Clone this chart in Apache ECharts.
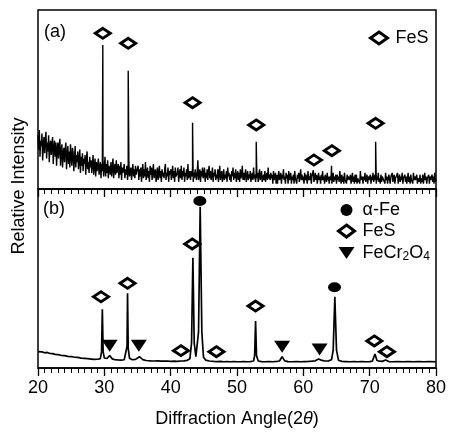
<!DOCTYPE html>
<html><head><meta charset="utf-8">
<script src="https://cdn.jsdelivr.net/npm/echarts@6/dist/echarts.min.js"></script>
<style>html,body{margin:0;padding:0;background:#fff}#c{width:450px;height:434px}</style>
</head><body><div id="c"></div>
<script>
// ---------- DATA ----------
const angleMin = 20, angleMax = 80, angleStep = 10;
// Panel (a): measured background, sampled every 0.1 deg starting at 20 deg (one row per degree)
const bgStartA = 20, bgStepA = 0.1;
const backgroundA = [
 30,22,33,18,27,24,31,16,25,29,
 20,28,32,17,26,21,30,15,24,27,
 19,25,29,14,23,27,18,26,13,22,
 26,17,24,28,13,21,25,12,20,23,
 15,22,26,11,19,24,14,21,12,25,
 18,13,23,20,10,17,24,12,19,15,
 21,11,16,22,9,18,13,20,10,17,
 14,19,8,16,21,11,15,9,18,12,
 16,9,14,19,8,13,17,7,15,10,
 13,17,8,12,15,6,14,10,16,7,
 12,18,7,14,9,16,6,13,11,8,
 15,7,12,17,6,11,14,8,16,9,
 10,14,6,13,8,15,5,12,9,11,
 14,6,11,8,13,5,10,15,7,9,
 12,5,10,14,7,11,6,13,8,10,
 9,13,5,11,7,12,4,10,14,6,
 11,7,15,5,9,12,6,10,4,13,
 8,12,5,10,14,6,9,11,4,8,
 12,5,9,13,6,10,4,11,7,9,
 6,11,14,5,9,7,12,4,10,8,
 11,5,9,13,6,10,4,12,7,8,
 9,12,4,8,11,6,13,5,10,7,
 12,4,9,7,11,5,14,6,8,10,
 5,10,7,12,4,9,6,11,8,5,
 9,16,5,8,11,4,10,7,12,6,
 8,12,4,9,6,11,5,10,13,6,
 10,5,8,12,4,9,7,11,5,8,
 6,11,4,9,13,5,8,10,4,7,
 11,5,8,6,10,4,12,7,9,5,
 8,4,10,7,12,5,9,6,11,4,
 7,10,5,9,4,11,6,8,13,5,
 9,5,8,11,4,7,10,5,8,6,
 10,4,7,9,5,12,6,8,4,9,
 6,9,4,8,11,5,7,10,4,6,
 8,5,10,4,7,9,5,12,6,8,
 5,9,6,8,3,10,5,7,9,3,
 8,3,7,10,5,6,9,3,8,6,
 11,5,7,3,9,6,8,3,10,5,
 6,9,3,7,5,8,3,10,6,7,
 3,8,6,9,4,7,11,5,8,5,
 7,3,9,5,8,6,3,10,5,7,
 5,9,3,7,6,8,4,6,9,5,
 8,3,6,9,5,7,3,8,5,10,
 5,7,3,8,6,4,9,5,7,3,
 7,5,8,3,6,9,4,7,5,8,
 3,8,5,7,4,10,6,3,8,4,
 7,3,9,5,6,3,8,5,7,6,
 5,8,3,6,9,4,7,3,8,4,
 8,3,6,5,7,3,10,5,6,7,
 3,7,5,9,4,6,8,3,7,5,
 6,8,3,7,5,9,4,6,8,5,
 3,7,5,9,4,6,3,8,4,7,
 8,5,6,3,9,5,7,3,6,8,
 5,3,7,6,9,4,5,8,3,6,
 7,5,9,3,6,8,4,7,5,9,
 3,6,5,8,4,7,3,6,9,4,
 7,3,8,5,6,3,9,5,7,5,
 5,8,3,6,7,4,8,3,6,4,
 8,3,6,9,5,7,3,6,5,8,
 3,7,5,6,8,4,7,3,9,4,
 6
];
// Panel (a): diffraction peak apexes [angle, intensity]
const peaksA = [[29.77,80.4],[33.6,66.1],[43.3,37],[52.9,26.4],[61.5,10.5],[64.25,13],[70.9,26.4]];
// Panel (b): pattern [angle, intensity]
const patternB = [
 [20,9.2],[20.3,8.7],[20.6,9.0],[21,8.5],[21.4,8.7],[21.8,8.1],[22.2,8.0],[22.6,7.6],[23,7.5],[23.5,7.1],
 [24,6.9],[24.5,6.5],[25,6.4],[25.5,6.0],[26,5.9],[26.5,5.5],[27,5.4],[27.5,5.2],[28,5.0],[28.5,4.8],
 [29,4.9],[29.4,5.2],[29.58,9],[29.7,32.8],[29.82,9],[30.0,5.6],[30.4,5.3],[30.8,7.0],[31.2,5.1],[31.6,4.6],
 [32,4.5],[32.5,4.4],[33,4.6],[33.3,5.6],[33.42,12],[33.5,41.7],[33.6,11],[33.8,5.4],[34.2,4.6],[34.7,4.8],
 [35.3,6.3],[35.8,4.7],[36.3,4.2],[37,4.0],[37.5,3.9],[38,4.0],[38.5,3.8],[39,3.8],[39.5,3.9],[40,3.7],
 [40.5,3.8],[41,3.7],[41.5,3.9],[42,4.0],[42.5,4.3],[42.9,5.2],[43.15,14],[43.35,61.6],[43.55,14],[43.8,6.3],
 [43.95,6.6],[44.2,20],[44.45,90.1],[44.7,20],[44.95,6],[45.3,4.4],[45.8,3.9],[46.5,3.7],[47,3.6],[47.5,3.7],
 [48,3.5],[48.5,3.6],[49,3.5],[49.5,3.6],[50,3.5],[50.5,3.5],[51,3.6],[51.5,3.5],[52,3.6],[52.5,3.9],
 [52.66,7],[52.8,26.3],[52.94,7],[53.2,3.9],[53.7,3.6],[54.2,3.5],[54.8,3.6],[55.4,3.5],[56,3.7],[56.4,3.9],
 [56.8,6.3],[57.2,4.0],[57.7,3.6],[58.3,3.5],[59,3.6],[59.6,3.5],[60.2,3.6],[60.8,3.7],[61.3,3.8],[61.8,4.0],
 [62.3,5.0],[62.7,4.4],[63.2,3.9],[63.8,4.0],[64.25,4.6],[64.5,10],[64.75,39.8],[65.0,10],[65.3,4.3],[65.8,3.7],
 [66.4,3.6],[67,3.5],[67.6,3.6],[68.2,3.5],[68.8,3.6],[69.4,3.5],[70,3.6],[70.4,3.8],[70.8,7.8],[71.1,4.2],
 [71.5,3.8],[71.9,3.7],[72.4,4.5],[72.9,3.6],[73.5,3.5],[74.2,3.6],[75,3.5],[75.8,3.6],[76.6,3.5],[77.4,3.6],
 [78.2,3.5],[79,3.6],[80,3.5]
];
// Phase markers [angle, height]
const markersA_FeS = [[29.77,87.0],[33.6,81.4],[43.3,48.2],[52.9,35.8],[61.6,16.2],[64.3,21.4],[70.9,36.7]];
const markersB_Fe = [[44.4,93.3],[64.7,45.1]];
const markersB_FeS = [[29.5,39.8],[33.5,47.3],[43.25,69.3],[41.55,9.7],[46.9,9.1],[52.8,34.6],[70.7,15.1],[72.6,9.1]];
const markersB_FeCr2O4 = [[30.8,12.5],[35.2,12.5],[56.8,11.9],[62.45,10.4]];
const legendNamesA = ['FeS'];
const legendNamesB = ['α-Fe','FeS','FeCr2O4'];

// ---------- CHART ----------
const font = '"Liberation Sans", Arial, sans-serif';
const lineA = backgroundA.map((v,i)=>[Math.round((bgStartA + i*bgStepA)*100)/100, v]).concat(peaksA).sort((a,b)=>a[0]-b[0]);

function xAxisDef(gridIndex, showLabel){
  return {
    type:'value', gridIndex, min:angleMin, max:angleMax, interval:angleStep,
    axisLine:{show:true, onZero:false, lineStyle:{color:'#000', width:1.5}},
    axisTick:{show:true, inside:false, length:8, lineStyle:{color:'#000', width:1.3}},
    minorTick:{show:true, splitNumber:10, length:5, lineStyle:{color:'#000', width:1}},
    splitLine:{show:false}, minorSplitLine:{show:false},
    axisLabel:{show:showLabel, color:'#000', fontSize:18, fontFamily:font, margin:11, showMinLabel:true, showMaxLabel:true}
  };
}
const diamondSym = {symbol:'diamond', symbolSize:[15,10], itemStyle:{color:'#fff', borderColor:'#000', borderWidth:3, opacity:1}};
const circleSym = {symbol:'circle', symbolSize:[13,10], itemStyle:{color:'#000', borderWidth:0, opacity:1}};
const triSym = {symbol:'path://M0,0L10,0L5,7.5Z', symbolSize:[16,12], itemStyle:{color:'#000', borderWidth:0, opacity:1}};

const chart = echarts.init(document.getElementById('c'), null, {renderer:'canvas'});
chart.setOption({
  animation:false,
  backgroundColor:'#fff',
  textStyle:{fontFamily:font},
  grid:[
    {left:38, right:14, top:10, height:179, show:true, borderColor:'#000', borderWidth:1.5, backgroundColor:'transparent'},
    {left:38, right:14, top:189, height:179, show:true, borderColor:'#000', borderWidth:1.5, backgroundColor:'transparent'}
  ],
  xAxis:[
    xAxisDef(0,false),
    Object.assign(xAxisDef(1,true), {
      name:'{n|Diffraction Angle(2}{t|θ}{n|)}', nameLocation:'middle', nameGap:42,
      nameTextStyle:{rich:{n:{fontSize:18, fontFamily:font, color:'#000'}, t:{fontSize:18, fontStyle:'italic', fontFamily:font, color:'#000'}}}
    })
  ],
  yAxis:[
    {type:'value', gridIndex:0, min:0, max:100, show:false},
    {type:'value', gridIndex:1, min:0, max:100, show:false}
  ],
  legend:[
    {data:legendNamesA, left:364, top:23, itemWidth:17, itemHeight:12, symbolKeepAspect:false, selectedMode:false,
     itemStyle:{borderWidth:3, opacity:1},
     textStyle:{fontSize:18, fontFamily:font, color:'#000', lineHeight:20, padding:[0,0,0,3]}},
    {data:legendNamesB.map(n=> n==='FeS' ? {name:n, itemStyle:{borderWidth:3}} : {name:n}),
     orient:'vertical', left:332, top:195, itemGap:1, itemWidth:16, itemHeight:12, symbolKeepAspect:false, selectedMode:false,
     itemStyle:{opacity:1},
     formatter:n => n==='FeCr2O4' ? '{n|FeCr}{s|2}{n|O}{s|4}' : n,
     textStyle:{fontSize:18, fontFamily:font, color:'#000', lineHeight:20, padding:[0,0,0,3],
       rich:{n:{fontSize:18, fontFamily:font, color:'#000', lineHeight:20}, s:{fontSize:12, fontFamily:font, color:'#000', lineHeight:20, verticalAlign:'bottom', padding:[9,0,0,0]}}}}
  ],
  graphic:[
    {type:'text', left:44, top:23, style:{text:'(a)', font:'18px "Liberation Sans", Arial', fill:'#000'}},
    {type:'text', left:43, top:200, style:{text:'(b)', font:'18px "Liberation Sans", Arial', fill:'#000'}},
    {type:'text', x:19, y:186, rotation:Math.PI/2, style:{text:'Relative Intensity', font:'18px "Liberation Sans", Arial', fill:'#000', align:'center', verticalAlign:'middle'}}
  ],
  series:[
    {name:'pattern a', type:'line', xAxisIndex:0, yAxisIndex:0, data:lineA, showSymbol:false, symbol:'none', lineStyle:{color:'#000', width:1.4}, z:2},
    {name:'pattern b', type:'line', xAxisIndex:1, yAxisIndex:1, data:patternB, showSymbol:false, symbol:'none', lineStyle:{color:'#000', width:1.7}, z:2},
    Object.assign({name:'FeS', type:'scatter', xAxisIndex:0, yAxisIndex:0, data:markersA_FeS, z:3}, diamondSym),
    Object.assign({name:'α-Fe', type:'scatter', xAxisIndex:1, yAxisIndex:1, data:markersB_Fe, z:3}, circleSym),
    Object.assign({name:'FeS', type:'scatter', xAxisIndex:1, yAxisIndex:1, data:markersB_FeS, z:3}, diamondSym),
    Object.assign({name:'FeCr2O4', type:'scatter', xAxisIndex:1, yAxisIndex:1, data:markersB_FeCr2O4, z:3}, triSym)
  ]
});
</script></body></html>
